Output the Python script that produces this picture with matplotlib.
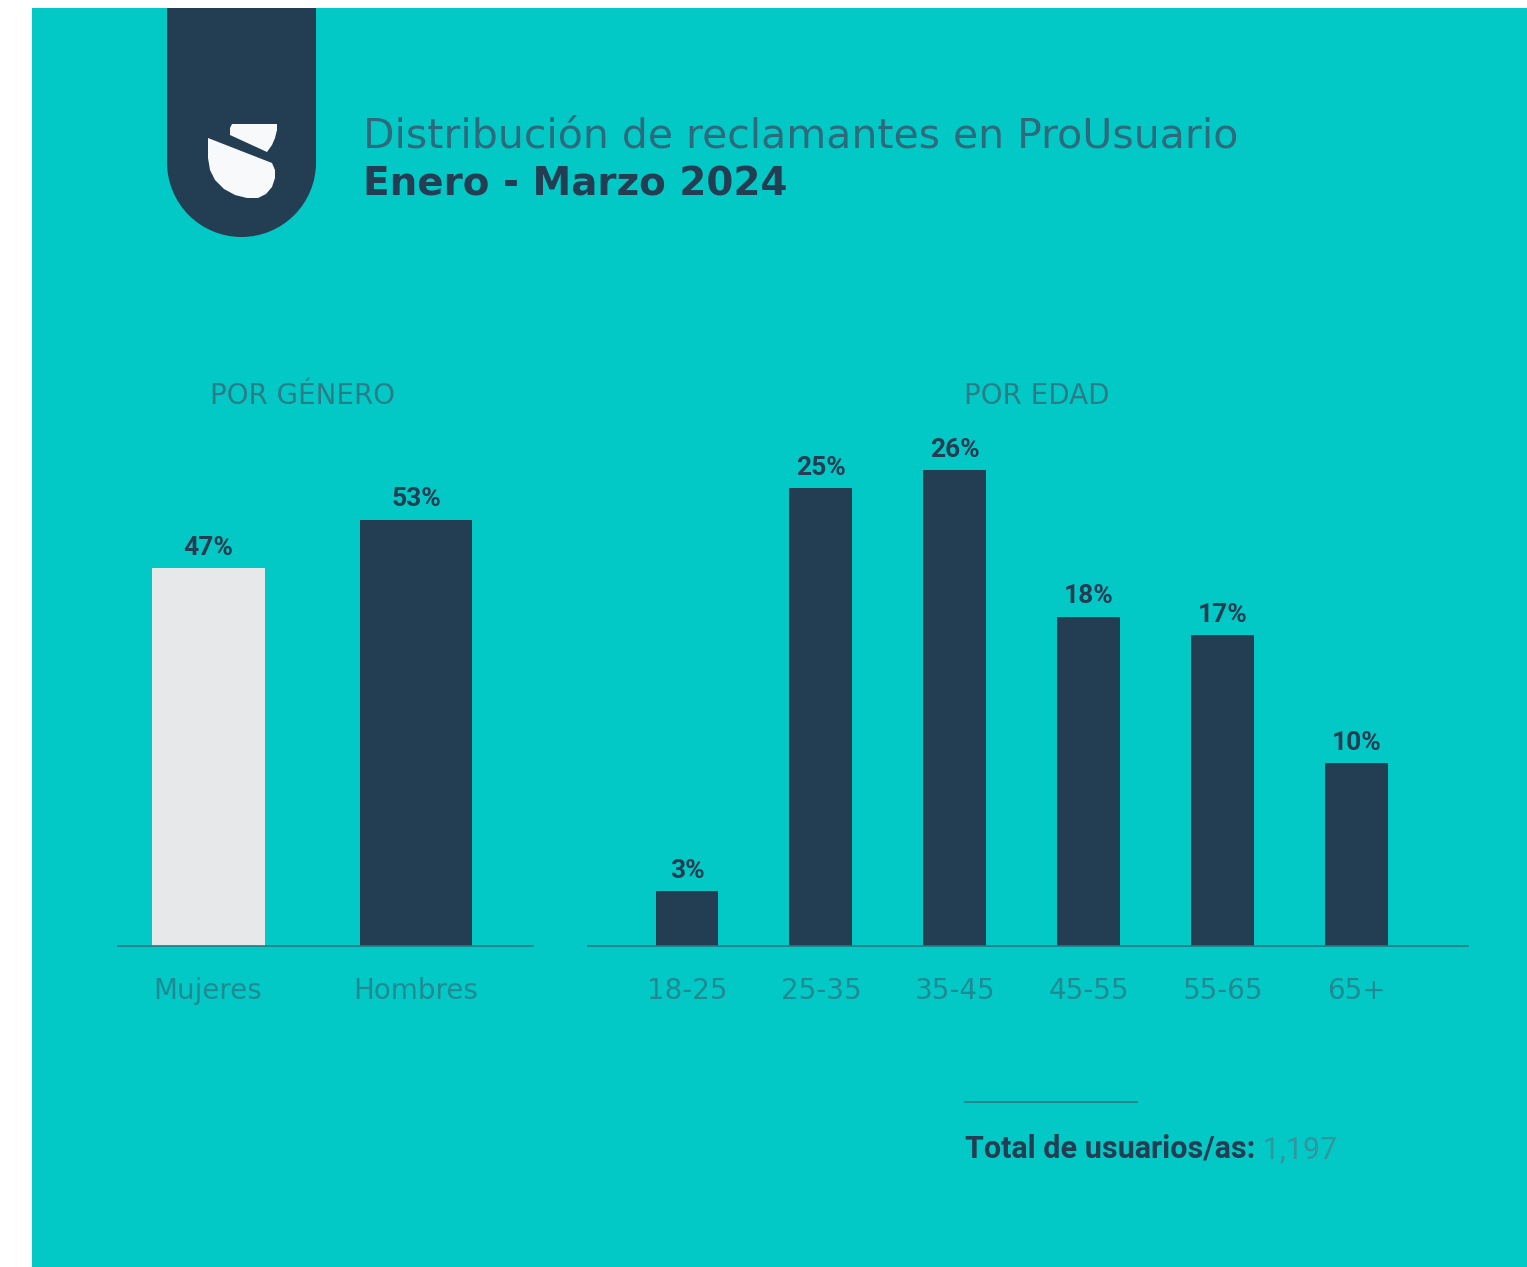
import matplotlib.pyplot as plt
from matplotlib.patches import Rectangle, Wedge, Polygon

W, H = 1527, 1267

# data
genero = ["Mujeres", "Hombres"]
genero_pct = [47, 53]
edad = ["18-25", "25-35", "35-45", "45-55", "55-65", "65+"]
edad_pct = [3, 25, 26, 18, 17, 10]
total_usuarios = "1,197"

TEAL = "#03c9c6"
NAVY = "#233d52"
LIGHT = "#e6e8ea"
TICK = "#1f8a93"
SUB = "#2a7d87"
LINE = "#237a84"

plt.rcParams['font.family'] = ['Roboto', 'DejaVu Sans']

fig = plt.figure(figsize=(W / 100, H / 100), dpi=100, facecolor="white")

# background / decoration layer in pixel coords (y grows downward)
bg = fig.add_axes([0, 0, 1, 1], zorder=0)
bg.set_xlim(0, W)
bg.set_ylim(H, 0)
bg.axis("off")
bg.add_patch(Rectangle((32, 8), W - 32, H - 8, color=TEAL, lw=0))

# logo
bg.add_patch(Rectangle((167, 8), 149, 155, color=NAVY, lw=0))
bg.add_patch(Wedge((241.5, 162.5), 74.5, 0, 180, color=NAVY, lw=0))
upper = [(232, 124), (277, 124), (277, 130), (275, 138), (272, 145), (267, 152),
         (230, 135), (230, 128)]
lower = [(208, 138), (272, 163), (275, 170), (275, 178), (272, 187), (266, 194),
         (258, 198), (247, 198), (235, 195), (224, 189), (215, 180), (210, 170),
         (208, 158)]
bg.add_patch(Polygon(upper, closed=True, color="#f7f9fa", lw=0, zorder=3))
bg.add_patch(Polygon(lower, closed=True, color="#f7f9fa", lw=0, zorder=3))

bg.text(363, 148, "Distribución de reclamantes en ProUsuario", fontsize=29.5,
        color="#2d6a7b", family="DejaVu Sans", va="baseline", ha="left")
bg.text(363, 196, "Enero - Marzo 2024", fontsize=28, color=NAVY,
        family="DejaVu Sans", fontweight="bold", va="baseline", ha="left")

bg.text(303, 404, "POR GÉNERO", fontsize=20, color=SUB, family="DejaVu Sans",
        ha="center", va="baseline")
bg.text(1037, 404, "POR EDAD", fontsize=20, color=SUB, family="DejaVu Sans",
        ha="center", va="baseline")

bg.plot([965, 1137], [1102, 1102], color=LINE, lw=1.2)
t = bg.text(965, 1158, "Total de usuarios/as:", fontsize=22, color=NAVY,
            fontweight="bold", va="baseline", ha="left")
fig.canvas.draw()
x_end = t.get_window_extent().x1
bg.annotate(" " + total_usuarios, xy=(x_end, H - 1158), xycoords="figure pixels",
            fontsize=22, color="#3196a0", va="baseline", ha="left")


def style(ax):
    ax.set_facecolor("none")
    for s in ["top", "right", "left"]:
        ax.spines[s].set_visible(False)
    ax.spines["bottom"].set_color(LINE)
    ax.spines["bottom"].set_linewidth(1.2)
    ax.set_yticks([])
    ax.tick_params(axis="x", length=0, pad=22, labelsize=20, labelcolor=TICK)
    for lab in ax.get_xticklabels():
        lab.set_family("DejaVu Sans")


bottom = (H - 946) / H
height = 506 / H

# genero
ax1 = fig.add_axes([118 / W, bottom, 415 / W, height], zorder=2)
x1 = list(range(len(genero)))
ax1.bar(x1, genero_pct, width=0.543, color=[LIGHT, NAVY])
ax1.set_xlim(-0.433, 1.5625)
ax1.set_ylim(0, 62.9)
ax1.set_xticks(x1)
ax1.set_xticklabels(genero)
style(ax1)
for xi, v in zip(x1, genero_pct):
    ax1.annotate(f"{v}%", (xi, v), textcoords="offset points", xytext=(0, 6),
                 ha="center", va="bottom", fontsize=19, fontweight="bold", color=NAVY)

# edad
ax2 = fig.add_axes([588 / W, bottom, 880 / W, height], zorder=2)
x2 = list(range(len(edad)))
ax2.bar(x2, edad_pct, width=0.47, color=NAVY)
ax2.set_xlim(-0.739, 5.83)
ax2.set_ylim(0, 27.65)
ax2.set_xticks(x2)
ax2.set_xticklabels(edad)
style(ax2)
for xi, v in zip(x2, edad_pct):
    ax2.annotate(f"{v}%", (xi, v), textcoords="offset points", xytext=(0, 6),
                 ha="center", va="bottom", fontsize=19, fontweight="bold", color=NAVY)

fig.savefig("out.png", dpi=100, facecolor=fig.get_facecolor())
